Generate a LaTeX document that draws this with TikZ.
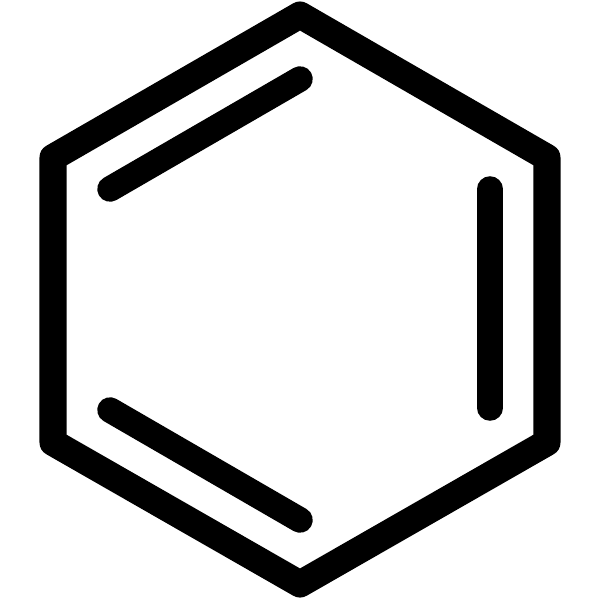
\documentclass[tikz,border=0pt]{standalone}
\begin{document}
\begin{tikzpicture}[x=0.01cm,y=-0.01cm,
  ring/.style={line width=0.27cm,line join=round,black},
  bond/.style={line width=0.255cm,line cap=round,black}]
\useasboundingbox[fill=white] (0,0) rectangle (600,600);
\coordinate (v1) at (300,15);
\coordinate (v2) at (547,157.5);
\coordinate (v3) at (547,442.5);
\coordinate (v4) at (300,584);
\coordinate (v5) at (53,442.5);
\coordinate (v6) at (53,157.5);
\draw[ring] (v1) -- (v2) -- (v3) -- (v4) -- (v5) -- (v6) -- cycle;
\coordinate (a1) at (110,189);
\coordinate (a2) at (300,79);
\coordinate (b1) at (490,189);
\coordinate (b2) at (490,408);
\coordinate (c1) at (110,410);
\coordinate (c2) at (300,520);
\draw[bond] (a1) -- (a2);
\draw[bond] (b1) -- (b2);
\draw[bond] (c1) -- (c2);
\end{tikzpicture}
\end{document}
